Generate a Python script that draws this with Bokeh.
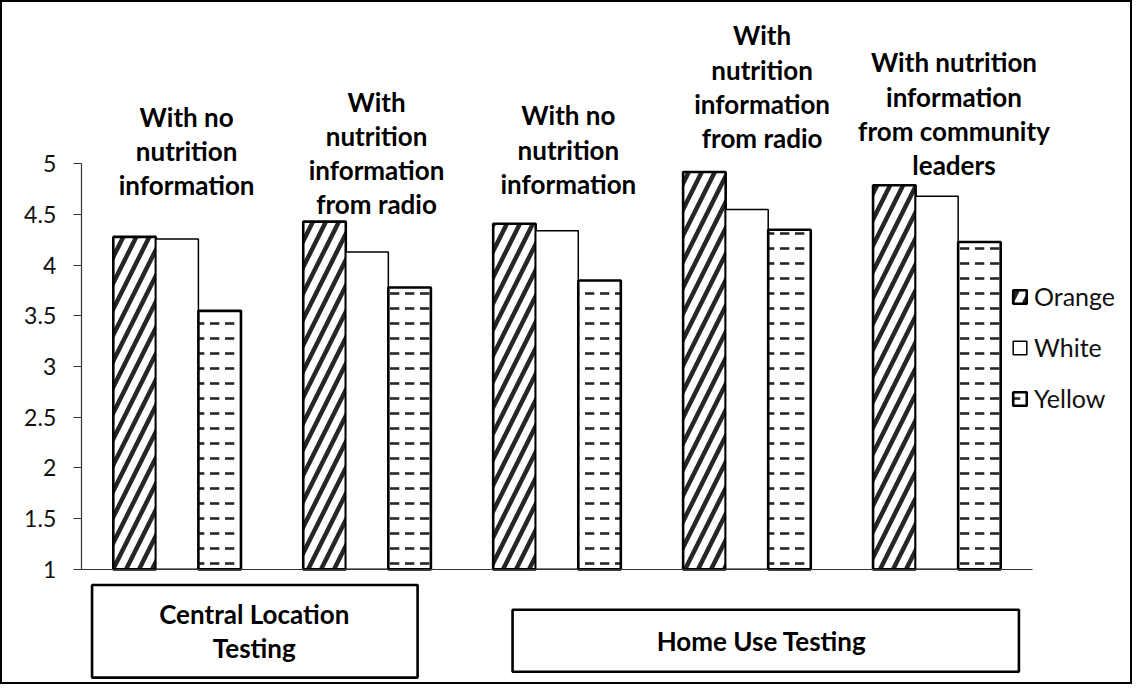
from bokeh.plotting import figure
from bokeh.models import (Range1d, LinearAxis, FixedTicker, NumeralTickFormatter,
                          Legend, LegendItem)
from bokeh.core.properties import value
from bokeh.embed import file_html
from bokeh.resources import INLINE

# ---------------- data ----------------
group_labels = [
    "With no\nnutrition\ninformation",
    "With\nnutrition\ninformation\nfrom radio",
    "With no\nnutrition\ninformation",
    "With\nnutrition\ninformation\nfrom radio",
    "With nutrition\ninformation\nfrom community\nleaders",
]
setting_labels = ["Central Location\nTesting", "Home Use  Testing"]
series_names = ["Orange", "White", "Yellow"]
orange = [4.28, 4.43, 4.41, 4.92, 4.79]
white = [4.26, 4.13, 4.34, 4.55, 4.68]
yellow = [3.55, 3.78, 3.85, 4.35, 4.23]
y_ticks = [1, 1.5, 2, 2.5, 3, 3.5, 4, 4.5, 5]

# ---------------- layout ----------------
BAR_W = 0.224
BASE = 1
group_x = list(range(len(orange)))
label_x = [0.05, 1.05, 2.06, 3.08, 4.09]
label_y = [5.126, 5.107, 5.141, 5.762, 5.495]
box_left = [-0.448, 1.766]
box_right = [1.266, 4.432]
box_top = [0.845, 0.602]
box_bottom = [-0.068, -0.010]
box_text_x = [0.406, 3.094]
box_text_y = [0.393, 0.291]

FONT = "Lato"
LINE_H = 1.07

p = figure(width=1132, height=684,
           x_range=Range1d(-0.93, 5.03), y_range=Range1d(-0.136, 6.612),
           output_backend="svg", toolbar_location=None,
           x_axis_location=None, y_axis_location=None,
           min_border=0, min_border_left=0, min_border_right=0,
           min_border_top=0, min_border_bottom=0)
for g in p.grid:
    g.visible = False
p.outline_line_color = "black"
p.outline_line_width = 3
p.background_fill_color = "white"
p.border_fill_color = "white"

# y axis pinned at the left edge of the plot area
yaxis = LinearAxis(fixed_location=-0.505, bounds=(1, 5),
                   ticker=FixedTicker(ticks=y_ticks),
                   formatter=NumeralTickFormatter(format="0.[0]"))
yaxis.axis_line_color = "#333333"
yaxis.axis_line_width = 1.2
yaxis.major_tick_line_color = "#333333"
yaxis.major_tick_line_width = 1.2
yaxis.major_tick_in = 0
yaxis.major_tick_out = 8
yaxis.minor_tick_line_color = None
yaxis.major_label_text_font = FONT
yaxis.major_label_text_font_size = "23px"
yaxis.major_label_text_color = "#111111"
yaxis.major_label_standoff = 17
p.add_layout(yaxis, "left")

# x axis: plain line at y = 1
xaxis = LinearAxis(fixed_location=1, bounds=(-0.505, 4.505),
                   ticker=FixedTicker(ticks=[]))
xaxis.axis_line_color = "#333333"
xaxis.axis_line_width = 1.2
xaxis.major_tick_line_color = None
xaxis.minor_tick_line_color = None
xaxis.major_label_text_font_size = "0px"
p.add_layout(xaxis, "below")

r_or = p.vbar(x=[x - BAR_W for x in group_x], top=orange, bottom=BASE, width=BAR_W,
              fill_color="white", line_color="black", line_width=2.6,
              hatch_pattern=value("right_diagonal_line"), hatch_scale=26,
              hatch_weight=4.5, hatch_color="#262626")
r_wh = p.vbar(x=group_x, top=white, bottom=BASE, width=BAR_W,
              fill_color="white", line_color="black", line_width=1.5)
r_ye = p.vbar(x=[x + BAR_W for x in group_x], top=yellow, bottom=BASE, width=BAR_W,
              fill_color="white", line_color="black", line_width=2.6,
              hatch_pattern=value("horizontal_dash"),
              hatch_scale=15, hatch_weight=2.6, hatch_color="#262626")

# group descriptions above the bars
p.text(x=label_x, y=label_y, text=group_labels,
       text_font=value(FONT), text_font_style="bold", text_font_size="26px",
       text_align="center", text_baseline="middle", text_line_height=LINE_H,
       text_color="black")

# testing setting boxes below the axis
p.quad(left=box_left, right=box_right, top=box_top, bottom=box_bottom,
       fill_color="white", line_color="black", line_width=2.6)
p.text(x=box_text_x, y=box_text_y, text=setting_labels,
       text_font=value(FONT), text_font_style="bold", text_font_size="26px",
       text_align="center", text_baseline="middle", text_line_height=LINE_H,
       text_color="black")

legend = Legend(items=[LegendItem(label=series_names[0], renderers=[r_or]),
                       LegendItem(label=series_names[1], renderers=[r_wh]),
                       LegendItem(label=series_names[2], renderers=[r_ye])],
                location=(1011, 271), orientation="vertical")
legend.padding = 0
legend.margin = 0
legend.border_line_color = None
legend.background_fill_alpha = 0
legend.glyph_width = 17
legend.glyph_height = 17
legend.label_standoff = 6
legend.label_height = 30
legend.spacing = 21
legend.label_text_font = FONT
legend.label_text_font_size = "25px"
legend.label_text_color = "#111111"
p.add_layout(legend)

open("out.html", "w").write(file_html(p, INLINE))
